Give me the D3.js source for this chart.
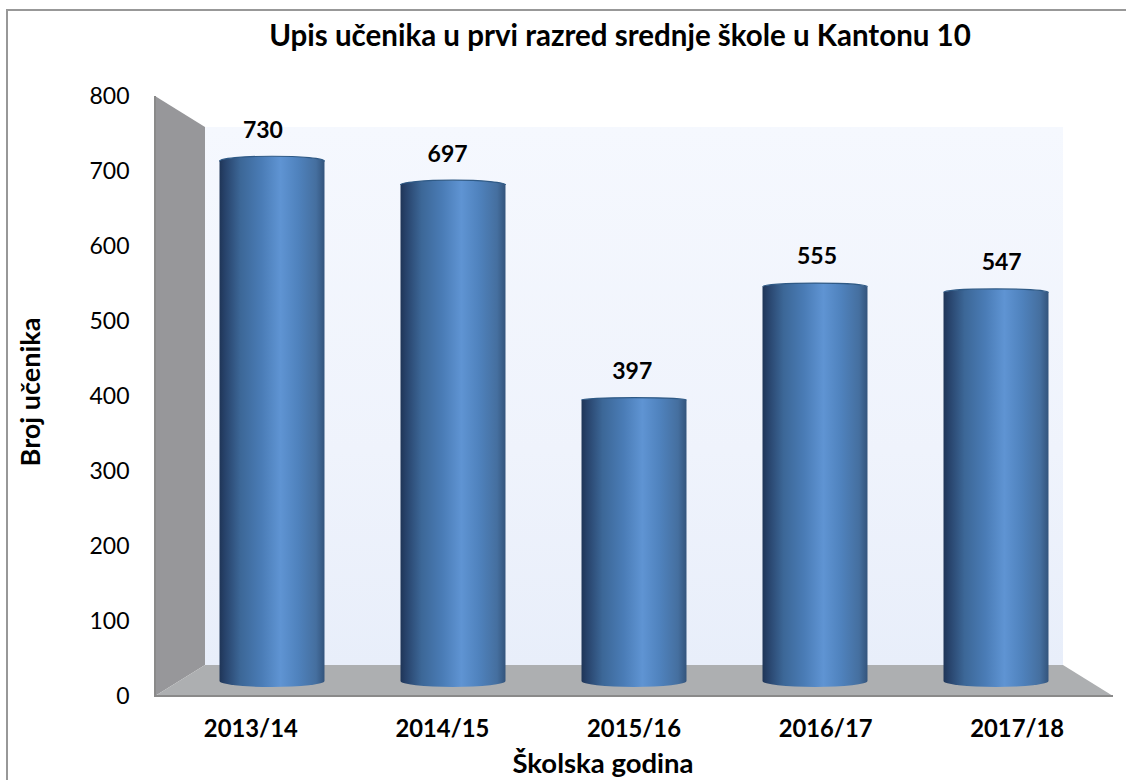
<!DOCTYPE html>
<html><head><meta charset="utf-8">
<script src="https://cdn.jsdelivr.net/npm/d3@7"></script>
<style>html,body{margin:0;padding:0;background:#fff;overflow:hidden}svg{display:block}text{font-family:Lato,Carlito,sans-serif;fill:#000}</style>
</head><body><svg id="c" width="1126" height="780"></svg>
<script>
const years = ["2013/14","2014/15","2015/16","2016/17","2017/18"];
const enrolment = [730,697,397,555,547];
const yTicks = [0,100,200,300,400,500,600,700,800];
const chartTitle = "Upis učenika u prvi razred srednje škole u Kantonu 10";
const xTitle = "Školska godina";
const yTitle = "Broj učenika";

const svg = d3.select("#c");
const defs = svg.append("defs");
const cyl = defs.append("linearGradient").attr("id","cyl");
[[0,"#1f3557"],[.05,"#27426a"],[.2,"#3c6797"],[.4,"#4a7cb6"],[.58,"#5f94d3"],[.75,"#4f82bd"],[.92,"#456f9f"],[1,"#33547c"]]
 .forEach(([o,c])=>cyl.append("stop").attr("offset",o).attr("stop-color",c));
const wall = defs.append("linearGradient").attr("id","wall").attr("x1",0).attr("x2",0).attr("y1",0).attr("y2",1);
[[0,"#f5f8fe"],[.6,"#eff3fc"],[1,"#e8eefa"]].forEach(([o,c])=>wall.append("stop").attr("offset",o).attr("stop-color",c));

// frame
svg.append("rect").attr("x",7).attr("y",10).attr("width",1130).attr("height",780)
  .attr("fill","#fff").attr("stroke","#989898").attr("stroke-width",2);

// 3D plot box
const y = d3.scaleLinear().domain([0,800]).range([696,96]);     // front (axis) plane
const yBar = d3.scaleLinear().domain([0,800]).range([685,111]); // plane through the cylinder rims
const yLab = d3.scaleLinear().domain([0,800]).range([658,79]);  // value labels
const rimRy = d3.scaleLinear().domain([397,730]).range([2.5,5]);
const xFront = d3.scaleBand().domain(years).range([155,1113]);
const xBar = d3.scaleBand().domain(years).range([181.5,1086.5]).paddingInner(.42).paddingOuter(.21);
const xLab = d3.scaleBand().domain(years).range([170.6,1094]);
const depthX = 50, depthY = 31;
const x0 = xFront.range()[0], x1 = xFront.range()[1], y0 = y(0), y8 = y(800);

svg.append("rect").attr("x",x0+depthX).attr("y",y8+depthY).attr("width",x1-x0-2*depthX).attr("height",y0-y8-2*depthY).attr("fill","url(#wall)");
svg.append("path").attr("fill","#97979a")
  .attr("d",d3.line()([[x0,y8],[x0+depthX,y8+depthY],[x0+depthX,y0-depthY],[x0,y0]])+"Z");
svg.append("path").attr("fill","#adafb1")
  .attr("d",d3.line()([[x0,y0],[x0+depthX,y0-depthY],[x1-depthX,y0-depthY],[x1,y0]])+"Z");
svg.append("path").attr("fill","none").attr("stroke","#8a8a8a").attr("stroke-width",2)
  .attr("d",d3.line()([[x0,y8],[x0,y0],[x1,y0]]));

// cylinders
const bars = svg.append("g").selectAll("g").data(years).join("g");
bars.append("path").attr("fill","url(#cyl)").attr("d",(d,i)=>{
  const l=xBar(d), w=xBar.bandwidth(), t=yBar(enrolment[i]), b=yBar(0)-4, rx=w/2;
  return `M${l},${t}A${rx},${rimRy(enrolment[i])} 0 0 1 ${l+w},${t}L${l+w},${b}A${rx},6 0 0 1 ${l},${b}Z`;
});
bars.append("path").attr("fill","none").attr("stroke","#2f5a86").attr("stroke-width",1.2).attr("d",(d,i)=>{
  const l=xBar(d), w=xBar.bandwidth(), t=yBar(enrolment[i]);
  return `M${l},${t}A${w/2},${rimRy(enrolment[i])} 0 0 1 ${l+w},${t}`;
});

// value labels
svg.append("g").selectAll("text").data(years).join("text")
  .attr("x",d=>xLab(d)+xLab.bandwidth()/2).attr("y",(d,i)=>yLab(enrolment[i])+8)
  .attr("text-anchor","middle").attr("font-size",23).attr("font-weight",700)
  .text((d,i)=>enrolment[i]);

// axes
const gy = svg.append("g").attr("transform",`translate(${x0-4},0)`)
  .call(d3.axisLeft(y).tickValues(yTicks).tickSize(0).tickPadding(21.5));
gy.select(".domain").remove();
gy.selectAll("text").attr("font-size",23).style("font-family","Lato,Carlito,sans-serif");
const gx = svg.append("g").attr("transform",`translate(0,${y0})`)
  .call(d3.axisBottom(xFront).tickSize(0).tickPadding(24));
gx.select(".domain").remove();
gx.selectAll("text").attr("font-size",23.8).attr("font-weight",700).style("font-family","Lato,Carlito,sans-serif");

svg.append("text").attr("x",620).attr("y",46).attr("text-anchor","middle").attr("font-size",29.5).attr("font-weight",700).text(chartTitle);
svg.append("text").attr("x",603).attr("y",773).attr("text-anchor","middle").attr("font-size",27.5).attr("font-weight",700).text(xTitle);
svg.append("text").attr("transform","translate(40,392) rotate(-90)").attr("text-anchor","middle").attr("font-size",27).attr("font-weight",700).text(yTitle);
</script></body></html>
